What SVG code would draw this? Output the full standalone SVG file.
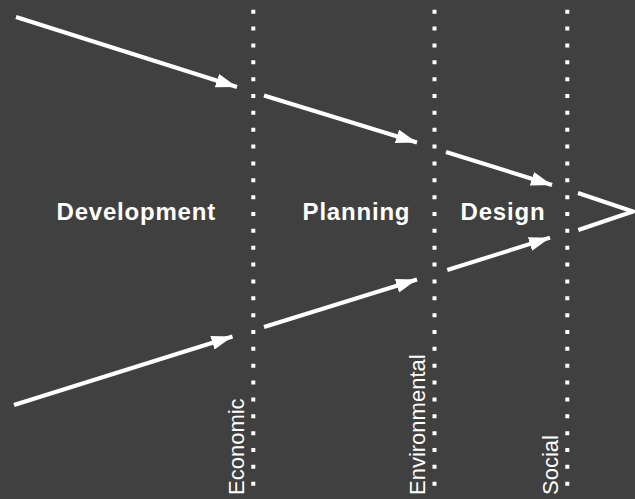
<svg xmlns="http://www.w3.org/2000/svg" width="635" height="499" viewBox="0 0 635 499">
  <style>
    .bg { fill: #404040; }
    .dots { stroke: #ffffff; stroke-width: 4; stroke-dasharray: 4 12.857; fill: none; }
    .conn { stroke: #ffffff; stroke-width: 4; fill: none; }
    .stage { font-family: "Liberation Sans", Arial, sans-serif; font-weight: bold; font-size: 24px; letter-spacing: 0.8px; fill: #ffffff; }
    .dim { font-family: "Liberation Sans", Arial, sans-serif; font-size: 22px; fill: #ffffff; }
  </style>
  <defs>
    <marker id="ah" markerUnits="userSpaceOnUse" markerWidth="22" markerHeight="16" refX="21" refY="7" orient="auto">
      <path d="M0,0 L21,7 L0,14 z" fill="#ffffff"/>
    </marker>
  </defs>
  <rect class="bg" x="0" y="0" width="635" height="499"/>

  <g id="economic">
    <line class="dots" x1="253.3" y1="9.7" x2="253.3" y2="487"/>
    <text class="dim" transform="translate(243.5,495) rotate(-90)">Economic</text>
  </g>
  <g id="environmental">
    <line class="dots" x1="434.5" y1="9.7" x2="434.5" y2="487"/>
    <text class="dim" transform="translate(425,495) rotate(-90)">Environmental</text>
  </g>
  <g id="social">
    <line class="dots" x1="567.3" y1="9.7" x2="567.3" y2="487"/>
    <text class="dim" transform="translate(557.5,495) rotate(-90)">Social</text>
  </g>

  <g id="development">
    <text class="stage" x="56.5" y="220">Development</text>
  </g>
  <g id="planning">
    <text class="stage" x="302.6" y="220">Planning</text>
  </g>
  <g id="design">
    <text class="stage" x="460.6" y="220">Design</text>
  </g>

  <g id="connectors">
    <line class="conn" x1="16" y1="17" x2="237" y2="87" marker-end="url(#ah)"/>
    <line class="conn" x1="264" y1="95.5" x2="417" y2="142.5" marker-end="url(#ah)"/>
    <line class="conn" x1="446" y1="152" x2="552" y2="185" marker-end="url(#ah)"/>
    <line class="conn" x1="14" y1="405" x2="232.5" y2="336.5" marker-end="url(#ah)"/>
    <line class="conn" x1="264" y1="327" x2="417" y2="279.5" marker-end="url(#ah)"/>
    <line class="conn" x1="447.3" y1="270" x2="550" y2="237.7" marker-end="url(#ah)"/>
    <polyline class="conn" points="578,193 633,211.5 578.3,230"/>
  </g>
</svg>
